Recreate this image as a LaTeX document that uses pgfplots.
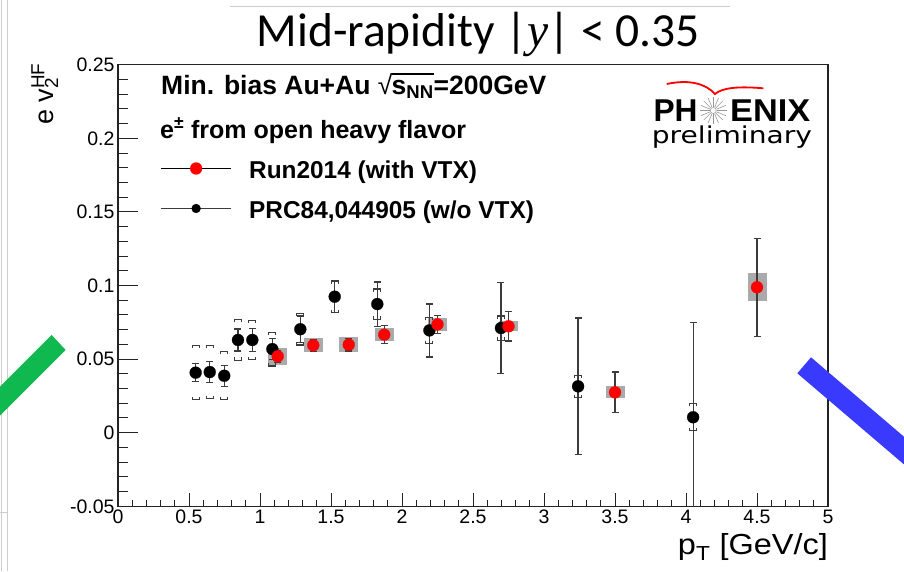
\documentclass[border=0pt]{standalone}
\usepackage{pgfplots}
\pgfplotsset{compat=1.18}
\usepackage{pgfplotstable}
\usepackage{fontspec}
\setmainfont{Liberation Sans}
\newfontfamily\carlito{Carlito}
\newfontfamily\dejavu{DejaVu Sans}
\newfontfamily\serifit{Liberation Serif Italic}

% square root of s_NN set with the text font
\newcommand\rootsnn{%
  \setbox0\hbox{s\textsubscript{NN}}%
  \setbox2\hbox{\fontseries{m}\selectfont √}%
  \copy2\kern-0.03em\rlap{\rule[\dimexpr\ht2-0.06em\relax]{\wd0}{0.06em}}\box0}

\definecolor{errcol}{RGB}{60,60,60}
\definecolor{sysbox}{RGB}{170,170,170}
\definecolor{framecol}{RGB}{35,35,35}
\definecolor{slidegreen}{RGB}{16,185,80}
\definecolor{slideblue}{RGB}{58,58,255}
\definecolor{slideline}{RGB}{205,205,205}
\definecolor{stargray}{RGB}{150,150,150}

% PRC84,044905 (w/o VTX): pT, v2, statistical and systematic uncertainty
\pgfplotstableread{
x      y       stat    sys
0.547  0.0408  0.0062  0.0184
0.646  0.0412  0.0071  0.0180
0.748  0.0387  0.0072  0.0164
0.845  0.0630  0.0075  0.0138
0.946  0.0630  0.0078  0.0134
1.087  0.0568  0.0070  0.0115
1.284  0.0703  0.0090  0.0107
1.526  0.0924  0.0105  0.0108
1.826  0.0874  0.0150  0.0102
2.193  0.0695  0.0180  0.0088
2.697  0.0711  0.0308  0.0082
3.240  0.0315  0.0464  0.0075
4.050  0.0105  0.0645  0.0093
}\prcdata

% Run2014 (with VTX): pT, v2, statistical and systematic uncertainty
\pgfplotstableread{
x      y       stat    sys
1.125  0.0519  0.0040  0.0057
1.375  0.0594  0.0040  0.0049
1.625  0.0598  0.0043  0.0049
1.875  0.0666  0.0062  0.0045
2.250  0.0736  0.0060  0.0046
2.750  0.0723  0.0100  0.0034
3.500  0.0274  0.0139  0.0040
4.500  0.0988  0.0334  0.0094
}\rundata

% bracket caps for systematic uncertainties
\pgfdeclareplotmark{captop}{%
  \pgfpathmoveto{\pgfqpoint{-\pgfplotmarksize}{-0.8\pgfplotmarksize}}%
  \pgfpathlineto{\pgfqpoint{-\pgfplotmarksize}{0pt}}%
  \pgfpathlineto{\pgfqpoint{\pgfplotmarksize}{0pt}}%
  \pgfpathlineto{\pgfqpoint{\pgfplotmarksize}{-0.8\pgfplotmarksize}}%
  \pgfusepathqstroke}
\pgfdeclareplotmark{capbot}{%
  \pgfpathmoveto{\pgfqpoint{-\pgfplotmarksize}{0.8\pgfplotmarksize}}%
  \pgfpathlineto{\pgfqpoint{-\pgfplotmarksize}{0pt}}%
  \pgfpathlineto{\pgfqpoint{\pgfplotmarksize}{0pt}}%
  \pgfpathlineto{\pgfqpoint{\pgfplotmarksize}{0.8\pgfplotmarksize}}%
  \pgfusepathqstroke}
\pgfdeclareplotmark{nothing}{}

\pgfplotsset{
  phxframe/.style={
    at={(118pt,-506.3pt)}, anchor=south west,
    scale only axis, width=710pt, height=441.6pt,
    xmin=0, xmax=5, ymin=-0.05, ymax=0.25,
    axis line style={draw=framecol, line width=1.2pt},
    tick align=inside, tick pos=left,
    every tick/.style={draw=framecol, line width=1pt},
    every tick label/.append style={font=\fontsize{19.5}{19.5}\selectfont},
    /pgf/number format/assume math mode=true,
  },
  legline/.style={legend image code/.code={%
    \draw[mark repeat=2, mark phase=2, ##1]
      plot coordinates {(0pt,4pt) (35pt,4pt) (70pt,4pt)};}},
}

\begin{document}
\begin{tikzpicture}
\useasboundingbox (0pt,0pt) rectangle (904pt,-571pt);
\clip (0pt,0pt) rectangle (904pt,-571pt);

% slide frame lines
\draw[slideline, line width=0.8pt] (1.7pt,0pt) -- (1.7pt,-571pt);
\draw[slideline, line width=0.8pt] (7.3pt,0pt) -- (7.3pt,-571pt);
\draw[slideline, line width=0.8pt] (0pt,-512pt) -- (7.3pt,-512pt);
\draw[slideline, line width=0.8pt] (230pt,-6pt) -- (730pt,-6pt);

% slide title
\node[anchor=base, inner sep=0pt, font=\carlito\fontsize{47.5}{47.5}\selectfont]
  at (478.3pt,-46.7pt) {Mid-rapidity |{\serifit y}| < 0.35};

% frame with the y ticks
\begin{axis}[phxframe,
  xtick=\empty,
  ytick={-0.05,0,0.05,0.1,0.15,0.2,0.25},
  yticklabels={-0.05,0,0.05,0.1,0.15,0.2,0.25},
  minor y tick num=4,
  major tick length=20pt, minor tick length=10pt,
  ylabel={e v\rlap{\textsubscript{2}}\textsuperscript{HF}},
  ylabel style={at={(axis description cs:-0.0908,1.0038)}, anchor=base east,
    inner sep=0pt, font=\fontsize{27}{27}\selectfont},
]
\end{axis}

% frame with the x ticks and the data
\begin{axis}[phxframe,
  ytick=\empty,
  xtick={0,0.5,1,1.5,2,2.5,3,3.5,4,4.5,5},
  xticklabels={0,0.5,1,1.5,2,2.5,3,3.5,4,4.5,5},
  minor x tick num=4,
  major tick length=13pt, minor tick length=6.5pt,
  xlabel={\scalebox{1.12}[1]{p\textsubscript{T} [GeV/c]}},
  xlabel style={at={(axis description cs:1,-0.110)}, anchor=base east,
    inner sep=0pt, font=\fontsize{29}{29}\selectfont},
  legend style={at={(axis description cs:0.0601,0.7831)}, anchor=north west,
    draw=none, fill=none, inner sep=0pt, outer sep=0pt, row sep=16pt,
    font=\bfseries\fontsize{24.4}{24.4}\selectfont,
    nodes={inner sep=0pt, text height=18pt, text depth=6pt},
    /tikz/every odd column/.append style={column sep=17.6pt}},
  legend cell align=left,
]
% systematic boxes, Run2014
\addplot[forget plot, only marks, mark=none,
  error bars/.cd, y dir=both, y explicit, error mark=nothing,
  error bar style={draw=sysbox, line width=19pt}]
  table[x=x, y=y, y error=sys] {\rundata};

% PRC84 statistical bars
\addplot[forget plot, only marks, mark=none,
  error bars/.cd, y dir=both, y explicit,
  error bar style={draw=errcol, line width=1.2pt},
  error mark options={rotate=90, draw=errcol, line width=1.2pt, mark size=3.5pt}]
  table[x=x, y=y, y error=stat] {\prcdata};
% PRC84 systematic brackets
\addplot[forget plot, only marks, mark=captop, mark size=3.5pt,
  mark options={draw=errcol, line width=1.1pt}]
  table[x=x, y expr=\thisrow{y}+\thisrow{sys}] {\prcdata};
\addplot[forget plot, only marks, mark=capbot, mark size=3.5pt,
  mark options={draw=errcol, line width=1.1pt}]
  table[x=x, y expr=\thisrow{y}-\thisrow{sys}] {\prcdata};
% PRC84 points
\addplot[forget plot, only marks, color=black, mark=*, mark size=6pt,
  mark options={draw=black, fill=black, line width=0.2pt}]
  table[x=x, y=y] {\prcdata};

% Run2014 statistical bars and points
\addplot[forget plot, only marks, mark=none,
  error bars/.cd, y dir=both, y explicit,
  error bar style={draw=errcol, line width=1.2pt},
  error mark options={rotate=90, draw=errcol, line width=1.2pt, mark size=3.5pt}]
  table[x=x, y=y, y error=stat] {\rundata};
\addplot[forget plot, only marks, color=red, mark=*, mark size=6pt,
  mark options={draw=red, fill=red, line width=0.2pt}]
  table[x=x, y=y] {\rundata};

\addlegendimage{legline, draw=black, line width=0.9pt, mark=*, mark size=6pt,
  mark options={draw=red, fill=red, line width=0.2pt}}
\addlegendentry{Run2014 (with VTX)}
\addlegendimage{legline, draw=errcol, line width=0.9pt, mark=*, mark size=4.5pt,
  mark options={draw=black, fill=black, line width=0.2pt}}
\addlegendentry{PRC84,044905 (w/o VTX)}
\end{axis}

% header lines of the legend
\node[anchor=base west, inner sep=0pt, font=\bfseries\fontsize{26.5}{26.5}\selectfont]
  at (161pt,-94pt) {Min. bias Au+Au \rootsnn=200GeV};
\node[anchor=base west, inner sep=0pt, font=\bfseries\fontsize{25}{25}\selectfont]
  at (160pt,-138pt) {e\textsuperscript{±} from open heavy flavor};

% PHENIX preliminary logo
\draw[red, line width=1.8pt]
  (666.7pt,-84pt) .. controls (690pt,-79pt) and (706pt,-84pt) .. (715pt,-94pt)
  .. controls (722pt,-88pt) and (737pt,-86pt) .. (763.3pt,-88.3pt);
\node[anchor=base west, inner sep=0pt] at (653.3pt,-121pt)
  {\resizebox{44pt}{21.7pt}{\bfseries PH}};
\node[anchor=base west, inner sep=0pt] at (730pt,-121pt)
  {\resizebox{80pt}{21.7pt}{\bfseries ENIX}};
\foreach \a in {0,22.5,...,359} {
  \draw[stargray, line width=0.6pt] (713.3pt,-110.5pt) ++(\a:3.5pt) -- ++(\a:10pt);
}
\draw[stargray, line width=0.5pt] (713.3pt,-110.5pt) circle (3pt);
\node[anchor=base west, inner sep=0pt] at (651.7pt,-143.3pt)
  {\resizebox{160pt}{17.7pt}{\dejavu preliminary}};

% coloured slide bars
\fill[slidegreen] (51.7pt,-335pt) -- (65.7pt,-350pt) -- (-34.3pt,-450pt) -- (-48.3pt,-435pt) -- cycle;
\fill[slideblue] (797.3pt,-373.3pt) -- (811pt,-357.3pt) -- (963pt,-487.1pt) -- (949.3pt,-503.1pt) -- cycle;
\end{tikzpicture}
\end{document}
